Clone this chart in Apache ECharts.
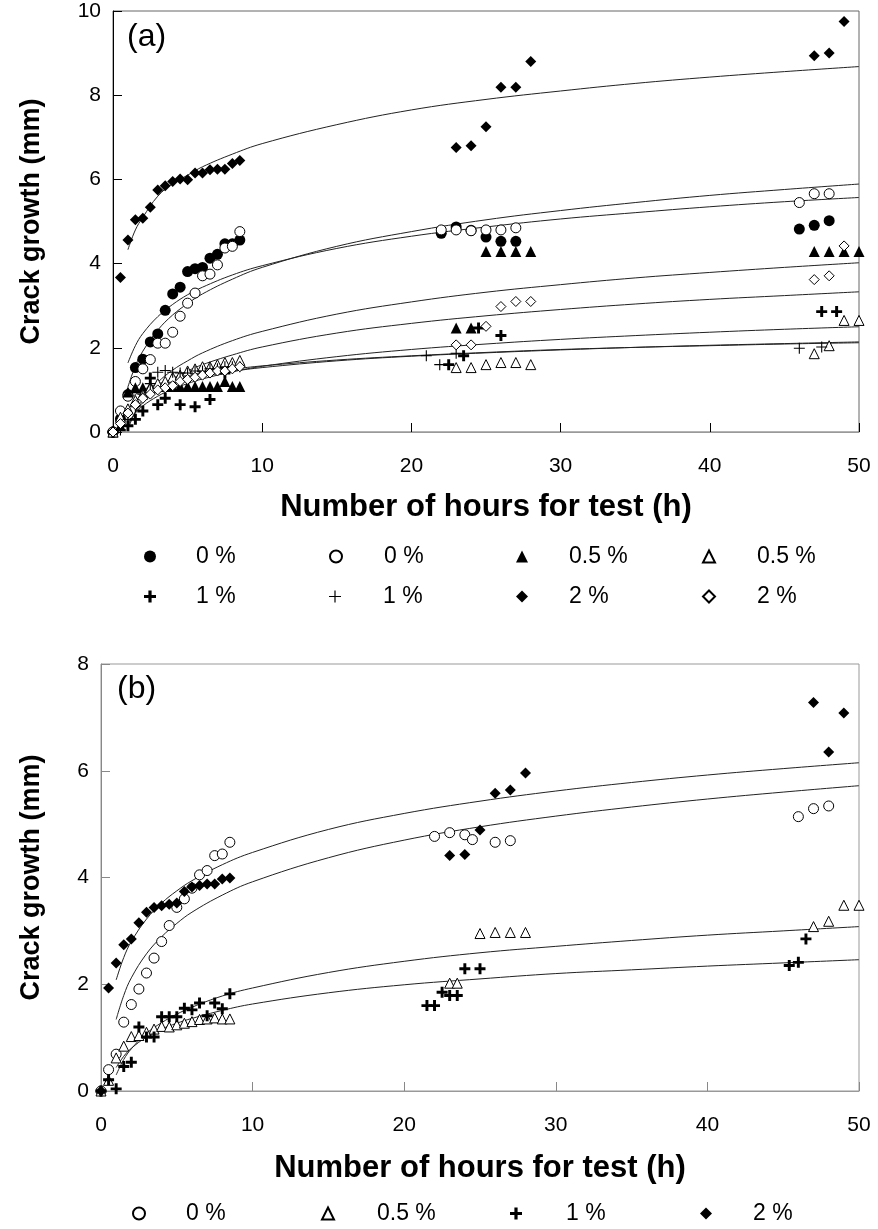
<!DOCTYPE html>
<html>
<head>
<meta charset="utf-8">
<script src="https://cdn.jsdelivr.net/npm/echarts@6/dist/echarts.min.js"></script>
<style>
  html, body { margin: 0; padding: 0; background: #fff; }
  #chart { width: 878px; height: 1229px; }
</style>
</head>
<body>
<div id="chart"></div>
<script>
// ---------- Panel (a): measured crack growth, [hours, mm] ----------
const a_0pct_filled = [[0,0],[0.5,0.31],[1,0.89],[1.5,1.53],[2,1.73],[2.5,2.14],[3,2.33],[3.5,2.89],[4,3.28],[4.5,3.44],[5,3.81],[5.5,3.88],[6,3.91],[6.5,4.13],[7,4.22],[7.5,4.47],[8,4.47],[8.5,4.56],
  [22,4.72],[23,4.87],[24,4.79],[25,4.63],[26,4.53],[27,4.53],[46,4.82],[47,4.91],[48,5.02]];
const a_0pct_open = [[0,0],[0.5,0.5],[1,0.85],[1.5,1.2],[2,1.5],[2.5,1.72],[3,2.11],[3.5,2.11],[4,2.37],[4.5,2.75],[5,3.06],[5.5,3.3],[6,3.71],[6.5,3.75],[7,3.97],[7.5,4.37],[8,4.41],[8.5,4.76],
  [22,4.8],[23,4.8],[24,4.78],[25,4.8],[26,4.8],[27,4.85],[46,5.45],[47,5.66],[48,5.66]];
const a_05pct_filled = [[0,0],[0.5,0.15],[1,0.95],[1.5,1.05],[2,1.05],[2.5,1.08],[3,1.08],[3.5,1.08],[4,1.08],[4.5,1.08],[5,1.08],[5.5,1.08],[6,1.08],[6.5,1.08],[7,1.08],[7.5,1.2],[8,1.08],[8.5,1.08],
  [23,2.47],[24,2.47],[25,4.29],[26,4.29],[27,4.29],[28,4.29],[47,4.29],[48,4.29],[49,4.29],[50,4.29]];
const a_05pct_open = [[0,0],[0.5,0.35],[1,0.55],[1.5,0.75],[2,0.9],[2.5,1.05],[3,1.15],[3.5,1.2],[4,1.3],[4.5,1.35],[5,1.45],[5.5,1.5],[6,1.55],[6.5,1.55],[7,1.6],[7.5,1.65],[8,1.65],[8.5,1.7],
  [23,1.53],[24,1.53],[25,1.6],[26,1.65],[27,1.65],[28,1.6],[47,1.86],[48,2.05],[49,2.65],[50,2.65]];
const a_1pct_filled = [[0,0],[1,0.15],[1.5,0.3],[2,0.5],[2.5,1.28],[3,0.65],[3.5,0.8],[4.5,0.65],[5.5,0.6],[6.5,0.77],[7.5,1.4],
  [22.5,1.6],[23.5,1.81],[24.5,2.47],[26,2.29],[47.5,2.86],[48.5,2.86]];
const a_1pct_open = [[0,0],[0.5,0.05],[1,0.3],[1.5,0.6],[2,0.9],[2.5,1.15],[3,1.42],[3.5,1.46],[4,1.42],[4.5,1.4],[5,1.4],[5.5,1.45],[6,1.45],[6.5,1.5],[7,1.5],[7.5,1.55],[8,1.55],[8.5,1.55],
  [21,1.81],[21.9,1.6],[23,1.87],[46,1.99],[47.5,2.02]];
const a_2pct_filled = [[0,0],[0.5,3.67],[1,4.56],[1.5,5.04],[2,5.08],[2.5,5.34],[3,5.75],[3.5,5.85],[4,5.95],[4.5,6.01],[5,5.99],[5.5,6.15],[6,6.15],[6.5,6.23],[7,6.24],[7.5,6.24],[8,6.38],[8.5,6.45],
  [23,6.76],[24,6.8],[25,7.25],[26,8.19],[27,8.19],[28,8.8],[47,8.94],[48,9.0],[49,9.75]];
const a_2pct_open = [[0,0],[0.5,0.2],[1,0.45],[1.5,0.65],[2,0.8],[2.5,0.9],[3,1.0],[3.5,1.05],[4,1.1],[4.5,1.2],[5,1.25],[5.5,1.3],[6,1.35],[6.5,1.4],[7,1.45],[7.5,1.45],[8,1.5],[8.5,1.55],
  [23,2.07],[24,2.07],[25,2.51],[26,2.98],[27,3.1],[28,3.1],[47,3.62],[48,3.71],[49,4.42]];

// Panel (a): fitted trend curves, [hours, mm]
const a_fit_1 = [[1,4.33],[1.5,4.8],[2,5.1],[3,5.6],[4,5.9],[5,6.1],[6,6.3],[8,6.6],[10,6.85],[15,7.3],[20,7.65],[25,7.9],[30,8.1],[35,8.28],[40,8.43],[45,8.56],[50,8.68]];
const a_fit_2 = [[1,1.07],[1.5,1.57],[2,1.92],[3,2.42],[4,2.78],[5,3.05],[6,3.28],[8,3.63],[10,3.91],[15,4.41],[20,4.76],[25,5.04],[30,5.26],[35,5.45],[40,5.62],[45,5.76],[50,5.89]];
const a_fit_3 = [[1,1.64],[1.5,2.05],[2,2.34],[3,2.74],[4,3.03],[5,3.26],[6,3.44],[8,3.73],[10,3.95],[15,4.36],[20,4.65],[25,4.87],[30,5.06],[35,5.21],[40,5.35],[45,5.47],[50,5.57]];
const a_fit_4 = [[1,0.07],[1.5,0.48],[2,0.77],[3,1.18],[4,1.47],[5,1.69],[6,1.88],[8,2.17],[10,2.39],[15,2.8],[20,3.09],[25,3.32],[30,3.5],[35,3.66],[40,3.79],[45,3.91],[50,4.02]];
const a_fit_5 = [[1,0.14],[1.5,0.47],[2,0.7],[3,1.04],[4,1.27],[5,1.45],[6,1.6],[8,1.83],[10,2.02],[15,2.35],[20,2.58],[25,2.76],[30,2.91],[35,3.04],[40,3.15],[45,3.24],[50,3.33]];
const a_fit_6 = [[1,0.21],[1.5,0.45],[2,0.62],[3,0.85],[4,1.02],[5,1.15],[6,1.26],[8,1.43],[10,1.56],[15,1.79],[20,1.96],[25,2.09],[30,2.2],[35,2.29],[40,2.37],[45,2.44],[50,2.5]];
const a_fit_7 = [[1,0.75],[1.5,0.89],[2,1.0],[3,1.14],[4,1.24],[5,1.32],[6,1.39],[8,1.49],[10,1.57],[15,1.71],[20,1.81],[25,1.89],[30,1.96],[35,2.01],[40,2.06],[45,2.1],[50,2.14]];
const a_fit_8 = [[1,0.55],[1.5,0.72],[2,0.85],[3,1.02],[4,1.14],[5,1.24],[6,1.32],[8,1.44],[10,1.53],[15,1.69],[20,1.8],[25,1.88],[30,1.95],[35,2.01],[40,2.05],[45,2.09],[50,2.12]];

// ---------- Panel (b): measured crack growth, [hours, mm] ----------
const b_0pct = [[0,0],[0.5,0.4],[1,0.69],[1.5,1.29],[2,1.62],[2.5,1.91],[3,2.21],[3.5,2.49],[4,2.8],[4.5,3.1],[5,3.44],[5.5,3.6],[6,3.8],[6.5,4.05],[7,4.13],[7.5,4.41],[8,4.44],[8.5,4.66],
  [22,4.77],[23,4.84],[24,4.8],[24.5,4.71],[26,4.66],[27,4.69],[46,5.14],[47,5.29],[48,5.34]];
const b_05pct = [[0,0],[0.5,0.2],[1,0.62],[1.5,0.84],[2,1.02],[2.5,1.04],[3,1.1],[3.5,1.16],[4,1.21],[4.5,1.2],[5,1.24],[5.5,1.27],[6,1.3],[6.5,1.34],[7,1.35],[7.5,1.37],[8,1.35],[8.5,1.35],
  [23,2.02],[23.5,2.02],[25,2.95],[26,2.97],[27,2.97],[28,2.97],[47,3.08],[48,3.18],[49,3.48],[50,3.48]];
const b_1pct = [[0,0],[0.5,0.21],[1,0.04],[1.5,0.46],[2,0.54],[2.5,1.2],[3,1.01],[3.5,1.01],[4,1.39],[4.5,1.39],[5,1.39],[5.5,1.55],[6,1.52],[6.5,1.65],[7,1.41],[7.5,1.65],[8,1.54],[8.5,1.82],
  [21.5,1.6],[22,1.6],[22.5,1.85],[23,1.79],[23.5,1.79],[24,2.29],[25,2.29],[45.4,2.35],[46,2.41],[46.5,2.85]];
const b_2pct = [[0,0],[0.5,1.93],[1,2.4],[1.5,2.74],[2,2.85],[2.5,3.15],[3,3.35],[3.5,3.44],[4,3.47],[4.5,3.5],[5,3.52],[5.5,3.74],[6,3.82],[6.5,3.85],[7,3.88],[7.5,3.88],[8,3.97],[8.5,3.99],
  [23,4.41],[24,4.43],[25,4.89],[26,5.58],[27,5.64],[28,5.96],[47,7.28],[48,6.35],[49,7.08]];

// Panel (b): fitted trend curves, [hours, mm]
const b_fit_2pct = [[1,2.08],[1.5,2.5],[2,2.8],[3,3.22],[4,3.52],[5,3.75],[6,3.94],[8,4.24],[10,4.47],[15,4.9],[20,5.2],[25,5.43],[30,5.62],[35,5.78],[40,5.92],[45,6.04],[50,6.15]];
const b_fit_0pct = [[1,1.34],[1.5,1.79],[2,2.12],[3,2.57],[4,2.89],[5,3.14],[6,3.35],[8,3.67],[10,3.92],[15,4.37],[20,4.7],[25,4.95],[30,5.15],[35,5.32],[40,5.47],[45,5.6],[50,5.72]];
const b_fit_1pct = [[1,0.3],[1.5,0.59],[2,0.79],[3,1.08],[4,1.28],[5,1.44],[6,1.57],[8,1.78],[10,1.93],[15,2.22],[20,2.43],[25,2.59],[30,2.71],[35,2.82],[40,2.92],[45,3.0],[50,3.08]];
const b_fit_05pct = [[1,0.44],[1.5,0.65],[2,0.8],[3,1.01],[4,1.16],[5,1.27],[6,1.36],[8,1.51],[10,1.63],[15,1.84],[20,1.99],[25,2.1],[30,2.2],[35,2.27],[40,2.34],[45,2.4],[50,2.46]];

// Axis ticks
const hourTicks = { min: 0, max: 50, interval: 10 };
const growthTicksA = { min: 0, max: 10, interval: 2 };
const growthTicksB = { min: 0, max: 8, interval: 2 };

const FONT = '"Liberation Sans", Arial, Helvetica, sans-serif';
const BOLD_PLUS = 'path://M4.4,0H7.6V4.4H12V7.6H7.6V12H4.4V7.6H0V4.4H4.4Z';
const THIN_PLUS = 'path://M5.4,0H6.6V5.4H12V6.6H6.6V12H5.4V6.6H0V5.4H5.4Z';

const filled = { color: '#000', opacity: 1 };
const hollow = { color: '#fff', borderColor: '#000', borderWidth: 1, opacity: 1 };

// legend entries: series id -> shown text
const legendText = {
  'a0f': '0 %', 'a0o': '0 %', 'a05f': '0.5 %', 'a05o': '0.5 %',
  'a1f': '1 %', 'a1o': '1 %', 'a2f': '2 %', 'a2o': '2 %',
  'b0': '0 %', 'b05': '0.5 %', 'b1': '1 %', 'b2': '2 %'
};

function pts(name, data, symbol, style, size, grid) {
  return {
    name: name, type: 'scatter', data: data, symbol: symbol, symbolSize: size,
    xAxisIndex: grid, yAxisIndex: grid, itemStyle: style, z: 5, silent: true
  };
}
function fit(data, grid) {
  return {
    type: 'line', data: data, smooth: 0.4, showSymbol: false, symbol: 'none',
    xAxisIndex: grid, yAxisIndex: grid, z: 3, silent: true,
    lineStyle: { color: '#222', width: 1 }
  };
}
function legendItem(name, iconCenterX, textX, centerY) {
  const size = 12;
  return {
    data: [name], left: iconCenterX - size / 2, top: centerY - 13,
    itemWidth: size, itemHeight: size, itemGap: 0, selectedMode: false,
    formatter: n => legendText[n],
    textStyle: { fontSize: 23, fontFamily: FONT, color: '#000',
      padding: [0, 0, 0, textX - (iconCenterX + size / 2) - 10] }
  };
}
function xAxisFor(grid, axisColor, tickColor, gap) {
  return {
    gridIndex: grid, type: 'value', ...hourTicks,
    axisLine: { show: true, lineStyle: { color: axisColor, width: 1 } },
    axisTick: { show: true, inside: true, length: 9, lineStyle: { color: tickColor } },
    splitLine: { show: false },
    axisLabel: { fontSize: 21, margin: 24, color: '#000', fontFamily: FONT },
    name: 'Number of hours for test (h)', nameLocation: 'middle', nameGap: gap,
    nameTextStyle: { fontSize: 31, fontWeight: 'bold', color: '#000', fontFamily: FONT }
  };
}
function yAxisFor(grid, ticks, axisColor, gap) {
  return {
    gridIndex: grid, type: 'value', ...ticks,
    axisLine: { show: true, lineStyle: { color: axisColor, width: 1 } },
    axisTick: { show: true, inside: true, length: 9, lineStyle: { color: axisColor } },
    splitLine: { show: false },
    axisLabel: { fontSize: 21, margin: 12, color: '#000', fontFamily: FONT },
    name: 'Crack growth (mm)', nameLocation: 'middle', nameGap: gap,
    nameTextStyle: { fontSize: 27, fontWeight: 'bold', color: '#000', fontFamily: FONT }
  };
}

const option = {
  animation: false,
  backgroundColor: '#fff',
  title: [
    { text: '(a)', left: 122, top: 16, textStyle: { fontSize: 32, fontWeight: 'normal', color: '#000', fontFamily: FONT } },
    { text: '(b)', left: 112, top: 668, textStyle: { fontSize: 32, fontWeight: 'normal', color: '#000', fontFamily: FONT } }
  ],
  grid: [
    { left: 113, top: 11, width: 746, height: 421, show: true, borderColor: '#666', borderWidth: 1 },
    { left: 101, top: 664, width: 758, height: 427, show: true, borderColor: '#999', borderWidth: 1 }
  ],
  xAxis: [xAxisFor(0, '#999', '#000', 60), xAxisFor(1, '#999', '#888', 62)],
  yAxis: [yAxisFor(0, growthTicksA, '#000', 68), yAxisFor(1, growthTicksB, '#888', 56)],
  legend: [
    legendItem('a0f', 145, 196, 553), legendItem('a0o', 330, 383, 553),
    legendItem('a05f', 517, 569, 553), legendItem('a05o', 703, 756, 553),
    legendItem('a1f', 145, 196, 593), legendItem('a1o', 330, 383, 593),
    legendItem('a2f', 517, 569, 593), legendItem('a2o', 703, 756, 593),
    legendItem('b0', 133, 185, 1210), legendItem('b05', 322, 376, 1210),
    legendItem('b1', 511, 566, 1210), legendItem('b2', 701, 753, 1210)
  ],
  series: [
    fit(a_fit_1, 0), fit(a_fit_2, 0), fit(a_fit_3, 0), fit(a_fit_4, 0),
    fit(a_fit_5, 0), fit(a_fit_6, 0), fit(a_fit_7, 0), fit(a_fit_8, 0),
    pts('a0f', a_0pct_filled, 'circle', filled, 11, 0),
    pts('a0o', a_0pct_open, 'circle', hollow, 10, 0),
    pts('a05f', a_05pct_filled, 'triangle', filled, 11, 0),
    pts('a05o', a_05pct_open, 'triangle', hollow, 10, 0),
    pts('a1f', a_1pct_filled, BOLD_PLUS, filled, 11, 0),
    pts('a1o', a_1pct_open, THIN_PLUS, filled, 11, 0),
    pts('a2f', a_2pct_filled, 'diamond', filled, 11, 0),
    pts('a2o', a_2pct_open, 'diamond', hollow, 10, 0),
    fit(b_fit_2pct, 1), fit(b_fit_0pct, 1), fit(b_fit_1pct, 1), fit(b_fit_05pct, 1),
    pts('b0', b_0pct, 'circle', hollow, 10, 1),
    pts('b05', b_05pct, 'triangle', hollow, 10, 1),
    pts('b1', b_1pct, BOLD_PLUS, filled, 11, 1),
    pts('b2', b_2pct, 'diamond', filled, 11, 1)
  ]
};

const chart = echarts.init(document.getElementById('chart'), null, { renderer: 'canvas' });
chart.setOption(option);
</script>
</body>
</html>
